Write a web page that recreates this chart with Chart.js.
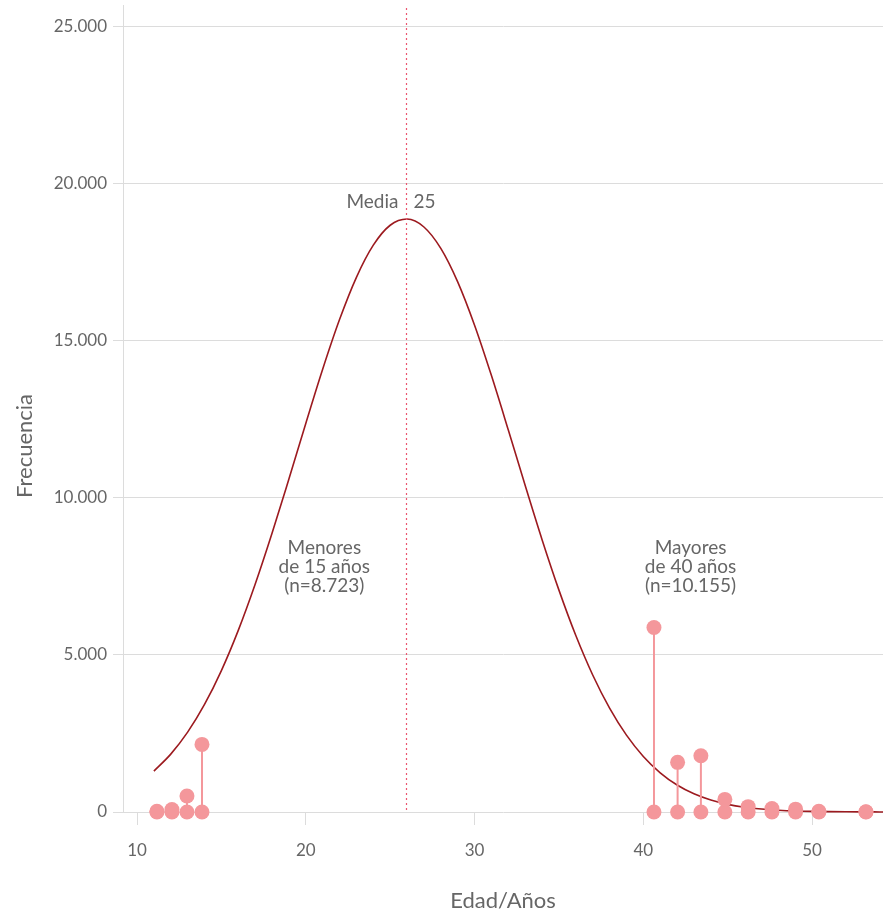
<!DOCTYPE html>
<html>
<head>
<meta charset="utf-8">
<script src="https://cdn.jsdelivr.net/npm/chart.js@4/dist/chart.umd.min.js"></script>
<style>
  html, body { margin: 0; padding: 0; background: #fff; }
  #wrap { width: 883px; height: 912px; }
</style>
</head>
<body>
<div id="wrap"><canvas id="c" width="883" height="912"></canvas></div>
<script>
// Fitted curve (age, frequency)
const curveAges = [11,12,13,14,15,16,17,18,19,20,21,22,23,24,25,26,27,28,29,30,31,32,33,34,35,36,37,38,39,40,41,42,43,44,45,46,47,48,49,50,51,52,53,54,54.2];
const curveFreq = [1302,1841,2540,3422,4499,5777,7243,8865,10593,12360,14083,15663,17008,18030,18664,18861,18609,17928,16863,15484,13881,12151,10385,8663,7058,5613,4359,3305,2446,1768,1247,858,578,380,243,152,93,56,32,19,11,6,3,2,1];

// Lollipops (outliers)
const lolliAges = [11.18,12.07,12.96,13.85,40.63,42.03,43.41,44.83,46.21,47.62,49.02,50.40,53.19];
const lolliFreq = [20,80,510,2150,5870,1580,1790,400,170,110,90,20,10];

// Mean
const meanAge = [25.94];
const meanText = ["Media", "25"];

// Group annotations
const groupLabels = [["Menores","de 15 años","(n=8.723)"],["Mayores","de 40 años","(n=10.155)"]];
const groupAges = [21.1, 42.8];
const groupFreq = [8400, 8400];

// Ticks and titles
const xTicks = [10,20,30,40,50];
const yTicks = [0,5000,10000,15000,20000,25000];
const xTitle = "Edad/Años";
const yTitle = "Frecuencia";

const FONT = "Lato, 'Open Sans', sans-serif";
const TEXT = "#666";
const GRID = "#dcdcdc";
const LOLLI = "#f4979b";

function fmt(v){ return String(v).replace(/\B(?=(\d{3})+(?!\d))/g, '.'); }

const datasets = [{
  type: 'line',
  data: curveAges.map((a,i)=>({x:a, y:curveFreq[i]})),
  borderColor: '#9c1a1f',
  borderWidth: 1.6,
  pointRadius: 0,
  tension: 0.4,
  cubicInterpolationMode: 'monotone',
  fill: false,
  clip: false,
  order: 1
}];
lolliAges.forEach((a,i)=>{
  datasets.push({
    type: 'line',
    data: [{x:a, y:0},{x:a, y:lolliFreq[i]}],
    borderColor: LOLLI,
    borderWidth: 2,
    pointRadius: 7.5,
    pointBackgroundColor: LOLLI,
    pointBorderColor: LOLLI,
    pointBorderWidth: 0,
    showLine: true,
    clip: false,
    order: 0
  });
});

const annot = {
  id: 'annot',
  afterDatasetsDraw(chart){
    const {ctx, scales:{x,y}, chartArea} = chart;
    ctx.save();
    // mean dotted line
    const mx = Math.round(x.getPixelForValue(meanAge[0])) + 0.5;
    ctx.strokeStyle = '#ea5670';
    ctx.lineWidth = 1.2;
    ctx.setLineDash([2,3]);
    ctx.beginPath();
    ctx.moveTo(mx, chartArea.top + 3);
    ctx.lineTo(mx, chartArea.bottom);
    ctx.stroke();
    ctx.setLineDash([]);
    // Media label
    ctx.fillStyle = TEXT;
    ctx.font = "19px " + FONT;
    ctx.textBaseline = 'middle';
    const my = y.getPixelForValue(19400);
    ctx.textAlign = 'right';
    ctx.fillText(meanText[0], mx - 8, my);
    ctx.textAlign = 'left';
    ctx.fillText(meanText[1], mx + 7, my);
    // group labels
    ctx.textAlign = 'center';
    groupLabels.forEach((lines, g)=>{
      const gx = x.getPixelForValue(groupAges[g]);
      const gy = y.getPixelForValue(groupFreq[g]);
      lines.forEach((t, k)=> ctx.fillText(t, gx, gy + k*19));
    });
    // y-axis title
    ctx.font = "22px " + FONT;
    ctx.translate(25, 446);
    ctx.rotate(-Math.PI/2);
    ctx.textAlign = 'center';
    ctx.fillText(yTitle, 0, 0);
    ctx.restore();
  }
};

new Chart(document.getElementById('c'), {
  type: 'scatter',
  data: { datasets },
  options: {
    responsive: false,
    devicePixelRatio: 1,
    animation: false,
    layout: { autoPadding: false, padding: { top: 5, right: 0, left: 0, bottom: 0 } },
    plugins: { legend: { display: false }, tooltip: { enabled: false } },
    scales: {
      x: {
        type: 'linear',
        min: 9.17,
        max: 54.2,
        afterBuildTicks(s){ s.ticks = xTicks.map(v=>({value:v})); },
        afterFit(s){ s.height = 100; s.paddingLeft = 0; s.paddingRight = 0; },
        grid: { drawOnChartArea: false, color: GRID, tickLength: 13, tickColor: GRID },
        border: { display: false },
        ticks: { color: TEXT, font: { family: FONT, size: 17 }, padding: 15, callback: v=>String(v) },
        title: { display: true, text: xTitle, color: TEXT, font: { family: FONT, size: 22, lineHeight: 1.0 }, padding: { top: 0, bottom: 0 } }
      },
      y: {
        type: 'linear',
        min: 0,
        max: 25670,
        afterBuildTicks(s){ s.ticks = yTicks.map(v=>({value:v})); },
        afterFit(s){ s.width = 123; s.paddingTop = 0; s.paddingBottom = 0; },
        grid: { color: GRID, tickLength: 10, tickColor: GRID, lineWidth: 1 },
        border: { display: true, color: GRID },
        ticks: { color: TEXT, font: { family: FONT, size: 17 }, padding: 6, callback: v=>fmt(v) },
        title: { display: false }
      }
    }
  },
  plugins: [annot]
});
</script>
</body>
</html>
